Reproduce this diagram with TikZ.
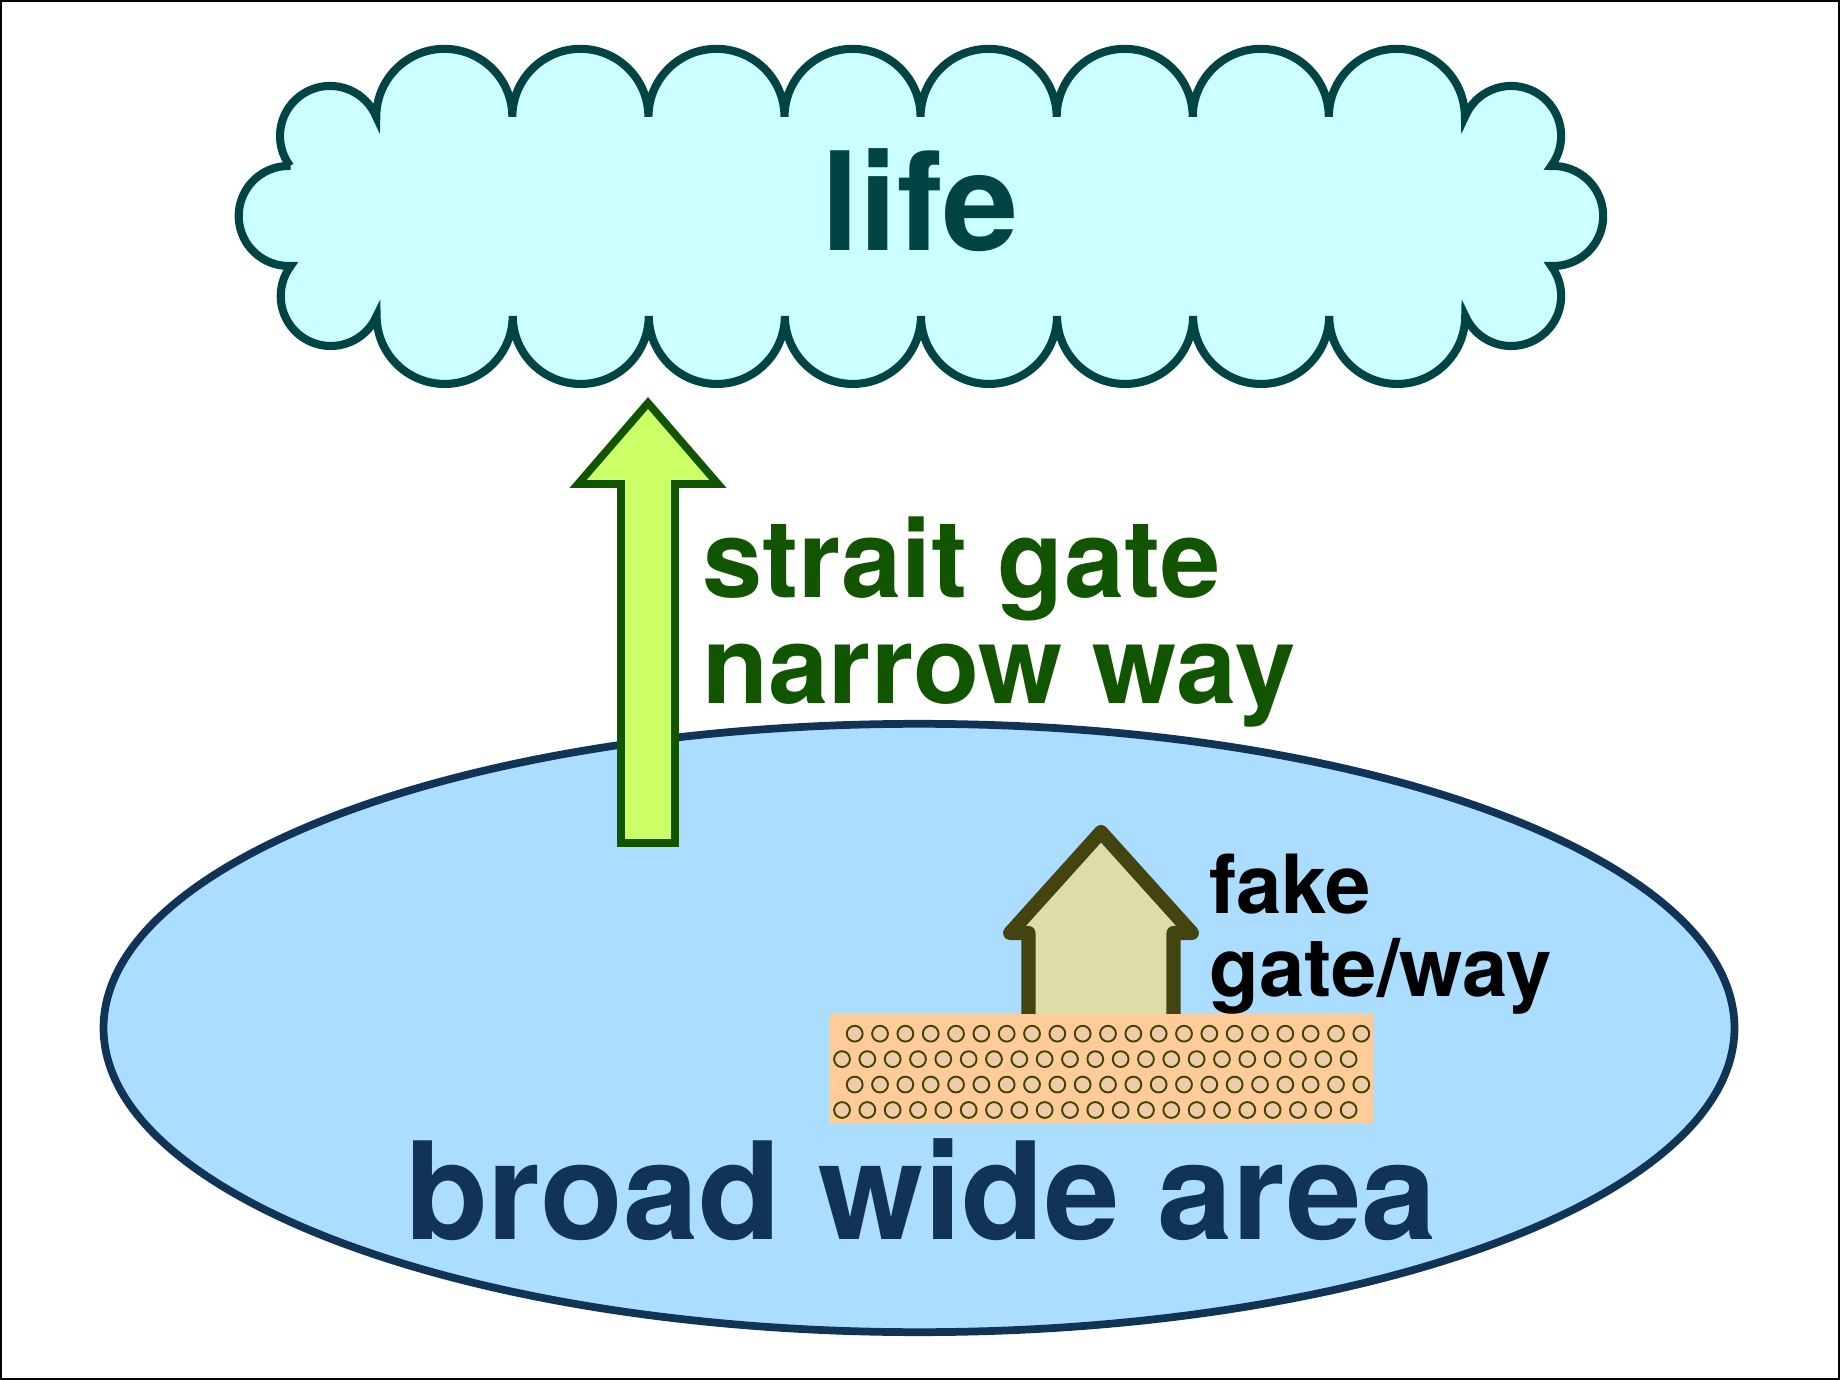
\documentclass[tikz,border=0pt]{standalone}
\usepackage{fontspec}
\setmainfont{TeX Gyre Heros}
\definecolor{cloudfill}{HTML}{CCFFFF}
\definecolor{cloudline}{HTML}{004444}
\definecolor{areafill}{HTML}{AADDFF}
\definecolor{arealine}{HTML}{113355}
\definecolor{arrowfill}{HTML}{CCFF66}
\definecolor{arrowline}{HTML}{115500}
\definecolor{housefill}{HTML}{DDDDAA}
\definecolor{houseline}{HTML}{444411}
\definecolor{padfill}{HTML}{FFCC99}
\definecolor{dotfill}{HTML}{EECCAA}
\definecolor{dotline}{HTML}{444400}
\begin{document}
\begin{tikzpicture}[x=0.01cm,y=-0.01cm,
  cloudshape/.style={fill=cloudfill,draw=cloudline,line width=2.3pt},
  areashape/.style={fill=areafill,draw=arealine,line width=2.2pt},
  uparrow/.style={fill=arrowfill,draw=arrowline,line width=2.2pt,miter limit=10},
  houseshape/.style={fill=housefill,draw=houseline,line width=4pt,line join=round},
  dotstyle/.style={fill=dotfill,draw=dotline,line width=0.55pt},
  lbl/.style={inner sep=0pt,font=\bfseries}]
\useasboundingbox (0,0) rectangle (1840,1380);
\fill[white] (0,0) rectangle (1840,1380);
\draw[black,line width=0.6pt] (1,1) rectangle (1839,1379);

% cloud
\draw[cloudshape] (290,166)
  arc[start angle=216.87,end angle=22.44,radius=0.5cm]
  arc[start angle=180,end angle=0,radius=0.68cm]
  arc[start angle=180,end angle=0,radius=0.68cm]
  arc[start angle=180,end angle=0,radius=0.68cm]
  arc[start angle=180,end angle=0,radius=0.68cm]
  arc[start angle=180,end angle=0,radius=0.68cm]
  arc[start angle=180,end angle=0,radius=0.68cm]
  arc[start angle=180,end angle=0,radius=0.68cm]
  arc[start angle=180,end angle=0,radius=0.68cm]
  arc[start angle=157.56,end angle=-36.87,radius=0.5cm]
  arc[start angle=92.29,end angle=-92.29,radius=0.5cm]
  arc[start angle=36.87,end angle=-156.5,radius=0.5cm]
  arc[start angle=0,end angle=-180,radius=0.68cm]
  arc[start angle=0,end angle=-180,radius=0.68cm]
  arc[start angle=0,end angle=-180,radius=0.68cm]
  arc[start angle=0,end angle=-180,radius=0.68cm]
  arc[start angle=0,end angle=-180,radius=0.68cm]
  arc[start angle=0,end angle=-180,radius=0.68cm]
  arc[start angle=0,end angle=-180,radius=0.68cm]
  arc[start angle=0,end angle=-180,radius=0.68cm]
  arc[start angle=-23.5,end angle=-216.87,radius=0.5cm]
  arc[start angle=-87.71,end angle=-272.29,radius=0.5cm]
  -- cycle;

% broad area
\draw[areashape] (919,1028) ellipse[x radius=8.15cm,y radius=3.04cm];

% narrow way arrow
\draw[uparrow] (648,403) -- (718,484) -- (675,484) -- (675,843) -- (621,843)
  -- (621,484) -- (578,484) -- cycle;

% fake gate arrow
\draw[houseshape] (1101,832) -- (1192,933) -- (1173.5,933) -- (1173.5,1060)
  -- (1028.5,1060) -- (1028.5,933) -- (1010,933) -- cycle;

% pad with dots
\fill[padfill] (829,1014) rectangle (1373,1123);
\foreach \r/\xo in {0/854.7,1/842,2/854.7,3/842}
  \foreach \k in {0,...,20}
    \filldraw[dotstyle] ({\xo+25.33*\k},{1033.7+25.43*\r}) circle[radius=0.079cm];

% labels
\node[lbl,anchor=base,text=cloudline,font=\bfseries\fontsize{38.9pt}{40pt}\selectfont] (life) at (920,250.7) {life};
\node[lbl,anchor=base west,text=arrowline,font=\bfseries\fontsize{30.8pt}{32pt}\selectfont] (strait) at (701.8,597.3) {strait gate};
\node[lbl,anchor=base west,text=arrowline,font=\bfseries\fontsize{30.8pt}{32pt}\selectfont] (narrow) at (701.8,703.3) {narrow way};
\node[lbl,anchor=base west,text=black,font=\bfseries\fontsize{23.2pt}{24pt}\selectfont] (fake) at (1208.5,914) {fake};
\node[lbl,anchor=base west,text=black,font=\bfseries\fontsize{23.2pt}{24pt}\selectfont] (gateway) at (1208.5,996.7) {gate/way};
\node[lbl,anchor=base,text=arealine,font=\bfseries\fontsize{38.5pt}{40pt}\selectfont] (broad) at (921,1239) {broad wide area};
\end{tikzpicture}
\end{document}
